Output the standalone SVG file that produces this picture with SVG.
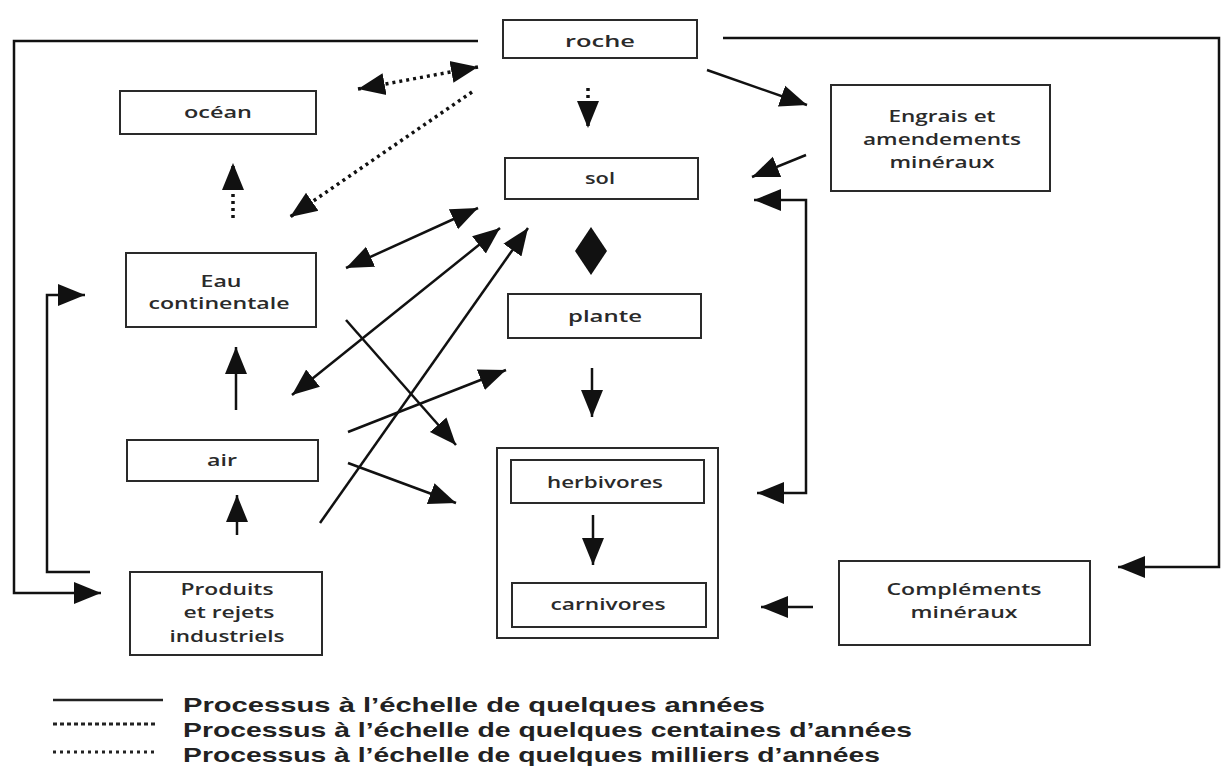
<svg xmlns="http://www.w3.org/2000/svg" width="1226" height="769" viewBox="0 0 1226 769">
<style>
.box{fill:#fff;stroke:#2a2a2a;stroke-width:2}
.frame{fill:none;stroke:#2a2a2a;stroke-width:2}
.lbl{font-family:"Open Sans","Noto Sans","Liberation Sans",sans-serif;font-size:17px;font-weight:600;fill:#2a2a2a;text-anchor:middle}
.ln{fill:none;stroke:#111;stroke-width:2.5}
.dot{fill:none;stroke:#111;stroke-width:3.5;stroke-dasharray:3 4}
.leg{font-family:"Liberation Sans Narrow","Liberation Sans",Arial,sans-serif;font-size:21px;font-weight:bold;fill:#222}
</style>
<defs>
<marker id="ah" markerUnits="userSpaceOnUse" markerWidth="30" markerHeight="24" refX="27" refY="12" orient="auto-start-reverse">
<path d="M0,1 L27,12 L0,23 Z" fill="#111"/>
</marker>
</defs>
<rect width="1226" height="769" fill="#fff"/>
<g id="roche"><rect class="box" x="503" y="20" width="194" height="38"/><text class="lbl" x="600" y="47" textLength="70" lengthAdjust="spacingAndGlyphs">roche</text></g>
<g id="ocean"><rect class="box" x="120" y="91" width="196" height="43"/><text class="lbl" x="218" y="118" textLength="68" lengthAdjust="spacingAndGlyphs">océan</text></g>
<g id="sol"><rect class="box" x="505" y="158" width="193" height="41"/><text class="lbl" x="600" y="184" textLength="30" lengthAdjust="spacingAndGlyphs">sol</text></g>
<g id="engrais"><rect class="box" x="831" y="85" width="219" height="106"/>
<text class="lbl" x="942" y="122" textLength="107" lengthAdjust="spacingAndGlyphs">Engrais et</text>
<text class="lbl" x="942" y="145" textLength="158" lengthAdjust="spacingAndGlyphs">amendements</text>
<text class="lbl" x="942" y="168" textLength="105" lengthAdjust="spacingAndGlyphs">minéraux</text></g>
<g id="eau"><rect class="box" x="126" y="253" width="190" height="74"/>
<text class="lbl" x="221" y="287" textLength="41" lengthAdjust="spacingAndGlyphs">Eau</text>
<text class="lbl" x="219" y="309" textLength="141" lengthAdjust="spacingAndGlyphs">continentale</text></g>
<g id="plante"><rect class="box" x="508" y="294" width="193" height="44"/><text class="lbl" x="605" y="322" textLength="74" lengthAdjust="spacingAndGlyphs">plante</text></g>
<g id="air"><rect class="box" x="127" y="440" width="191" height="41"/><text class="lbl" x="222" y="466" textLength="30" lengthAdjust="spacingAndGlyphs">air</text></g>
<g id="produits"><rect class="box" x="130" y="572" width="192" height="83"/>
<text class="lbl" x="227" y="595" textLength="93" lengthAdjust="spacingAndGlyphs">Produits</text>
<text class="lbl" x="229" y="618" textLength="91" lengthAdjust="spacingAndGlyphs">et rejets</text>
<text class="lbl" x="227" y="642" textLength="115" lengthAdjust="spacingAndGlyphs">industriels</text></g>
<g id="animaux"><rect class="frame" x="497" y="448" width="221" height="190"/></g>
<g id="herbivores"><rect class="box" x="511" y="460" width="193" height="43"/><text class="lbl" x="605" y="488" textLength="116" lengthAdjust="spacingAndGlyphs">herbivores</text></g>
<g id="carnivores"><rect class="box" x="512" y="583" width="194" height="44"/><text class="lbl" x="608" y="610" textLength="115" lengthAdjust="spacingAndGlyphs">carnivores</text></g>
<g id="complements"><rect class="box" x="839" y="561" width="251" height="84"/>
<text class="lbl" x="964" y="595" textLength="155" lengthAdjust="spacingAndGlyphs">Compléments</text>
<text class="lbl" x="964" y="618" textLength="107" lengthAdjust="spacingAndGlyphs">minéraux</text></g>
<g id="connectors">
<path class="ln" d="M478,41 H14 V593 H101" marker-end="url(#ah)"/>
<path class="ln" d="M90,572 H47 V295 H85" marker-end="url(#ah)"/>
<path class="ln" d="M723,38 H1219 V567 H1118" marker-end="url(#ah)"/>
<path class="ln" d="M754,200 H806 V493 H757" marker-start="url(#ah)" marker-end="url(#ah)"/>
<path class="ln" d="M707,70 L807,105" marker-end="url(#ah)"/>
<path class="ln" d="M806,155 L752,177" marker-end="url(#ah)"/>
<path class="ln" d="M813,607 L761,607" marker-end="url(#ah)"/>
<path class="dot" d="M588,88 L588,128" marker-end="url(#ah)"/>
<path class="dot" d="M478,67 L358,89" marker-start="url(#ah)" marker-end="url(#ah)"/>
<path class="dot" d="M472,92 L290,217" marker-end="url(#ah)"/>
<path class="dot" d="M233,218 L233,163" marker-end="url(#ah)"/>
<path class="ln" d="M478,208 L346,268" marker-start="url(#ah)" marker-end="url(#ah)"/>
<path class="ln" d="M500,228 L292,395" marker-start="url(#ah)" marker-end="url(#ah)"/>
<path class="ln" d="M320,523 L528,228" marker-end="url(#ah)"/>
<path class="ln" d="M346,320 L456,445" marker-end="url(#ah)"/>
<path class="ln" d="M348,432 L506,370" marker-end="url(#ah)"/>
<path class="ln" d="M348,463 L456,503" marker-end="url(#ah)"/>
<path class="ln" d="M236,410 L236,347" marker-end="url(#ah)"/>
<path class="ln" d="M237,535 L237,495" marker-end="url(#ah)"/>
<path class="ln" d="M592,368 L592,417" marker-end="url(#ah)"/>
<path class="ln" d="M593,515 L593,565" marker-end="url(#ah)"/>
<polygon points="591,227 607,251 591,275 575,251" fill="#111"/>
</g>
<g id="legend">
<line x1="53" y1="700" x2="163" y2="700" stroke="#222" stroke-width="2.5"/>
<line x1="53" y1="724" x2="157" y2="724" stroke="#222" stroke-width="3" stroke-dasharray="4 3"/>
<line x1="53" y1="752" x2="157" y2="752" stroke="#222" stroke-width="3" stroke-dasharray="3 4"/>
<text class="leg" x="183" y="712" textLength="582" lengthAdjust="spacingAndGlyphs">Processus  à l’échelle de quelques  années</text>
<text class="leg" x="183" y="737" textLength="729" lengthAdjust="spacingAndGlyphs">Processus  à l’échelle de quelques  centaines  d’années</text>
<text class="leg" x="183" y="762" textLength="697" lengthAdjust="spacingAndGlyphs">Processus  à l’échelle de quelques  milliers d’années</text>
</g>
</svg>
